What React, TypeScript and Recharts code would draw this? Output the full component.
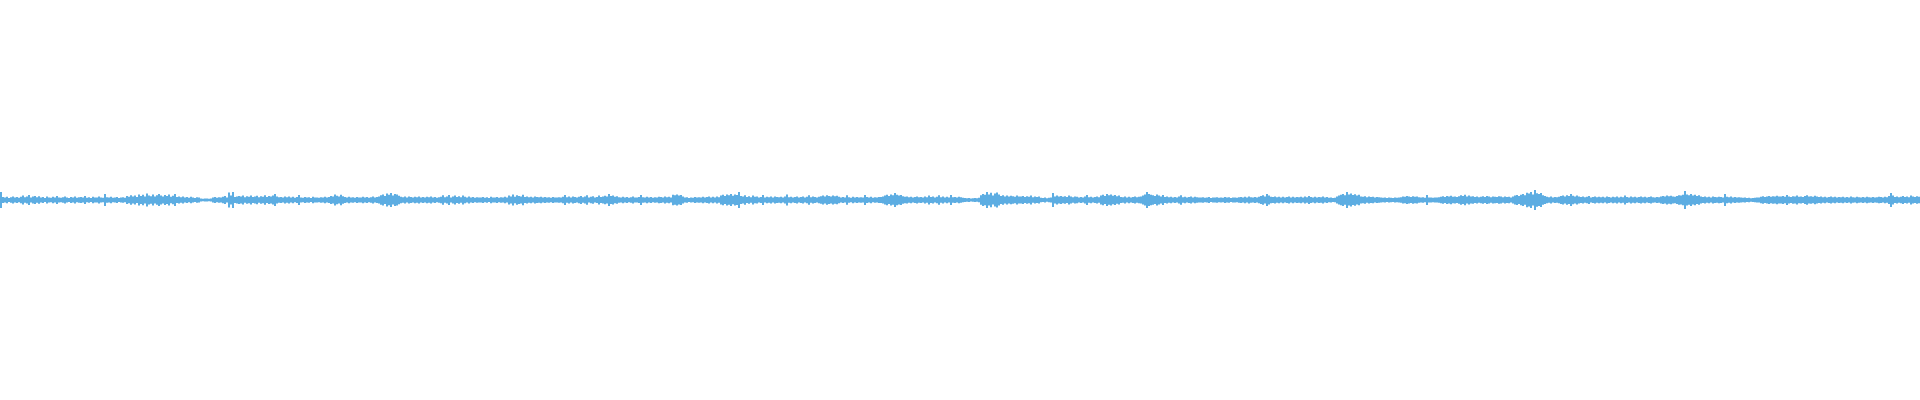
import React from 'react'
import { Bar, BarChart, XAxis, YAxis } from 'recharts'

// waveform peak amplitudes (milli-units of full scale), one per 2px column, left to right
const peaks0 = [
  40, 15, 12, 16, 10, 14, 18, 12, 15, 11, 16, 22, 14, 18, 25, 12, 17, 20, 14, 19,
  12, 15, 10, 17, 13, 11, 16, 12, 20, 13, 11, 14, 18, 12, 10, 15, 13, 17, 11, 14,
  15, 12, 20, 11, 14, 10, 16, 13, 12, 18, 13, 11, 30, 14, 12, 16, 11, 13, 15, 10,
  12, 14, 11, 20, 16, 24, 18, 22, 15, 27, 20, 26, 18, 32, 22, 19, 28, 17, 24, 30,
  22, 18, 25, 20, 27, 16, 21, 30, 15, 18, 14, 17, 12, 15, 11, 16, 13, 10, 14, 12,
  7, 6, 8, 7, 6, 8, 12, 15, 11, 14, 13, 16, 20, 12, 38, 22, 40, 15, 18, 20,
]
const peaks1 = [
  17, 22, 14, 19, 16, 23, 15, 18, 21, 14, 19, 16, 24, 15, 20, 17, 22, 30, 18, 14,
  15, 12, 17, 14, 18, 13, 16, 11, 15, 25, 13, 11, 15, 12, 14, 10, 16, 12, 13, 11,
  14, 12, 16, 13, 15, 20, 17, 28, 21, 18, 26, 19, 15, 13, 16, 12, 14, 11, 15, 13,
  12, 16, 13, 15, 11, 14, 17, 12, 15, 18, 24, 28, 20, 32, 26, 35, 22, 30, 27, 21,
  16, 14, 18, 13, 17, 15, 12, 16, 14, 18, 13, 15, 12, 16, 14, 17, 13, 15, 11, 14,
  16, 24, 14, 18, 25, 13, 17, 22, 15, 19, 14, 23, 16, 13, 18, 12, 15, 11, 14, 13,
]
const peaks2 = [
  12, 15, 11, 14, 10, 16, 12, 13, 15, 11, 14, 12, 16, 13, 22, 18, 28, 16, 24, 20,
  17, 26, 15, 18, 14, 16, 13, 17, 15, 14, 16, 13, 15, 12, 14, 11, 15, 13, 12, 14,
  13, 16, 25, 14, 17, 12, 18, 15, 13, 16, 20, 14, 17, 24, 13, 16, 19, 12, 15, 22,
  15, 18, 21, 17, 30, 20, 23, 16, 19, 14, 13, 16, 12, 15, 11, 14, 17, 12, 13, 15,
  25, 14, 12, 16, 13, 15, 11, 14, 12, 16, 15, 13, 17, 14, 16, 12, 26, 24, 27, 22,
  25, 18, 12, 14, 10, 13, 11, 15, 12, 14, 13, 16, 12, 15, 18, 13, 16, 12, 17, 14,
]
const peaks3 = [
  22, 26, 20, 28, 24, 30, 21, 27, 25, 40, 20, 17, 24, 15, 19, 14, 22, 16, 18, 13,
  15, 25, 13, 16, 14, 18, 12, 17, 15, 14, 16, 13, 18, 28, 14, 16, 12, 15, 17, 13,
  15, 17, 13, 16, 24, 14, 18, 15, 12, 16, 19, 22, 18, 24, 20, 17, 23, 19, 21, 16,
  13, 15, 12, 24, 14, 11, 16, 13, 15, 12, 14, 12, 25, 15, 13, 16, 11, 14, 13, 15,
  15, 17, 22, 26, 20, 28, 24, 35, 26, 22, 25, 19, 16, 18, 14, 16, 13, 15, 17, 14,
  15, 13, 18, 14, 22, 15, 17, 12, 16, 24, 14, 17, 13, 16, 12, 25, 14, 15, 13, 16,
]
const peaks4 = [
  14, 11, 10, 9, 10, 8, 9, 10, 9, 11, 24, 30, 26, 40, 28, 36, 22, 32, 38, 27,
  20, 24, 18, 22, 17, 21, 19, 16, 23, 18, 17, 20, 15, 19, 16, 22, 14, 18, 15, 17,
  11, 10, 12, 9, 11, 13, 35, 18, 22, 17, 20, 16, 19, 15, 22, 17, 14, 18, 16, 13,
  15, 13, 17, 25, 14, 16, 12, 15, 18, 14, 22, 26, 20, 30, 24, 28, 21, 25, 19, 23,
  15, 14, 17, 13, 16, 12, 15, 18, 14, 16, 17, 22, 28, 40, 30, 26, 24, 20, 27, 22,
  18, 25, 15, 17, 14, 16, 12, 15, 13, 17, 24, 14, 16, 13, 15, 18, 12, 16, 14, 13,
]
const peaks5 = [
  12, 14, 11, 13, 15, 10, 13, 12, 14, 11, 13, 11, 15, 12, 14, 10, 13, 12, 11, 14,
  15, 13, 16, 12, 17, 14, 13, 15, 12, 16, 20, 24, 18, 30, 22, 16, 15, 17, 14, 16,
  13, 16, 12, 15, 18, 13, 16, 12, 15, 14, 16, 13, 17, 14, 20, 15, 13, 16, 12, 15,
  14, 17, 13, 15, 11, 12, 10, 11, 18, 22, 26, 30, 24, 40, 28, 33, 25, 29, 22, 26,
  18, 16, 19, 14, 17, 15, 16, 13, 15, 14, 12, 11, 13, 10, 12, 11, 10, 12, 11, 13,
  14, 18, 16, 20, 17, 15, 19, 16, 18, 14, 12, 14, 11, 25, 13, 12, 11, 13, 12, 14,
]
const peaks6 = [
  16, 19, 15, 20, 17, 21, 16, 18, 15, 19, 24, 20, 26, 18, 22, 17, 19, 15, 17, 14,
  16, 19, 15, 20, 17, 14, 18, 16, 15, 19, 17, 14, 18, 15, 16, 13, 17, 22, 25, 20,
  26, 30, 24, 36, 32, 40, 28, 50, 34, 30, 35, 24, 20, 16, 14, 17, 13, 15, 14, 16,
  20, 22, 18, 24, 20, 30, 21, 18, 22, 17, 15, 17, 14, 16, 20, 13, 15, 17, 14, 16,
  14, 16, 13, 18, 15, 12, 16, 14, 17, 13, 16, 14, 22, 15, 13, 17, 14, 16, 12, 15,
  18, 14, 16, 13, 15, 17, 14, 13, 15, 14, 18, 20, 17, 22, 19, 21, 18, 16, 20, 24,
]
const peaks7 = [
  22, 26, 45, 28, 24, 30, 22, 26, 20, 24, 17, 15, 18, 14, 16, 13, 17, 15, 14, 16,
  15, 13, 30, 16, 14, 17, 13, 15, 12, 14, 13, 11, 12, 10, 11, 9, 10, 11, 12, 13,
  16, 19, 15, 18, 20, 16, 19, 17, 21, 18, 17, 20, 16, 25, 18, 15, 19, 17, 22, 16,
  18, 15, 20, 24, 17, 19, 16, 21, 18, 15, 17, 14, 16, 13, 15, 18, 14, 16, 13, 15,
  14, 16, 13, 15, 12, 17, 14, 13, 16, 14, 13, 15, 12, 16, 14, 13, 15, 12, 14, 16,
  15, 13, 16, 14, 20, 35, 22, 15, 17, 14, 16, 20, 15, 18, 14, 22, 17, 15, 19, 16,
]

const peaks = [...peaks0, ...peaks1, ...peaks2, ...peaks3, ...peaks4, ...peaks5, ...peaks6, ...peaks7]

const data = peaks.map((p, i) => ({ t: i, range: [-p, p] }))

const WAVE_COLOR = '#5dade2'

export default function App() {
  return (
    <div style={{ position: 'absolute', left: 0, top: 0, background: '#fff' }}>
      <BarChart
        width={1920}
        height={400}
        data={data}
        margin={{ top: 0, right: 0, left: 0, bottom: 0 }}
        barCategoryGap={0}
        barGap={0}
      >
        <XAxis dataKey="t" hide />
        <YAxis hide domain={[-1000, 1000]} />
        <Bar dataKey="range" fill={WAVE_COLOR} isAnimationActive={false} />
      </BarChart>
    </div>
  )
}
